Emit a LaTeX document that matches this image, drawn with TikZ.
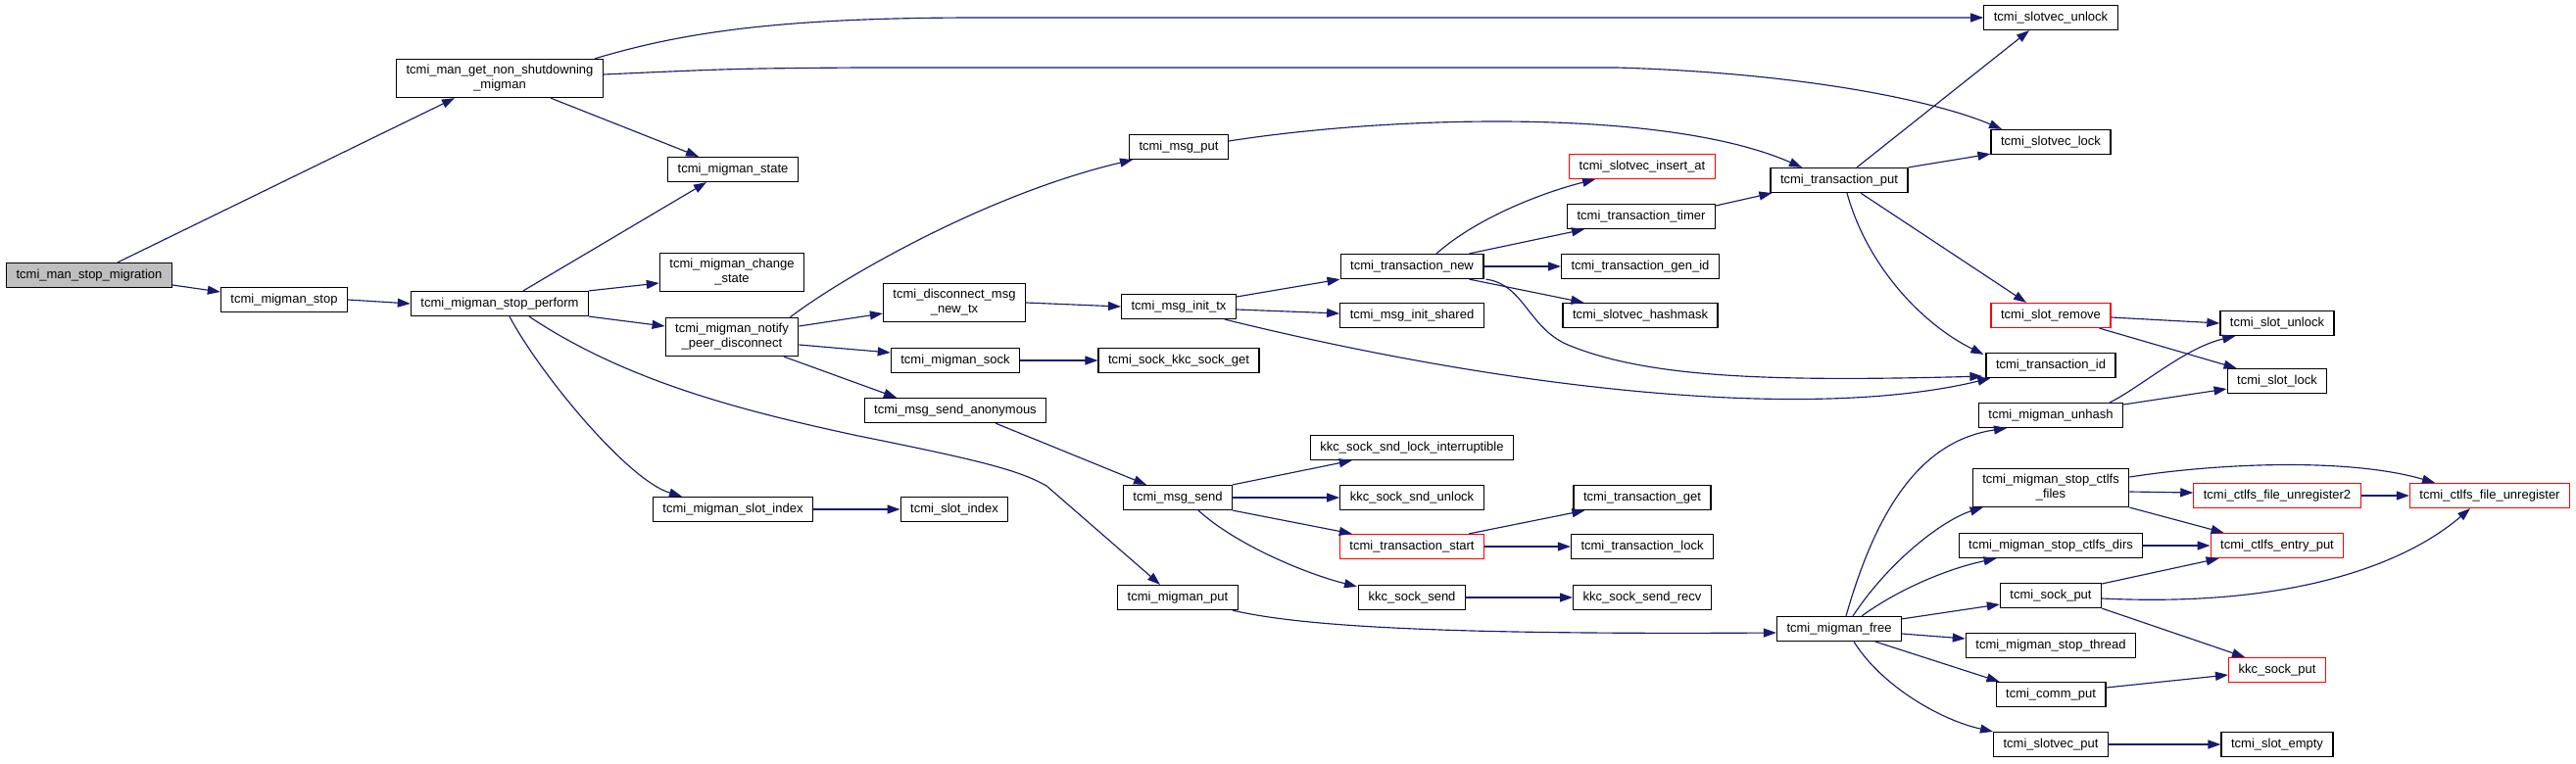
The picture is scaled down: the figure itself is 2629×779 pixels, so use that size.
\documentclass[tikz,border=0pt]{standalone}
\usepackage{fontspec}
\setmainfont{Liberation Sans}
\usepackage{xcolor}
\usetikzlibrary{arrows.meta, calc}
\definecolor{edgeblue}{RGB}{25,25,112}

\begin{document}
\begin{tikzpicture}[x=0.2mm, y=-0.2mm, >={Triangle[length=2.6mm, width=1.8mm]},
  fn/.style={draw, line width=0.7pt, fill=white, align=center, inner xsep=2mm, inner ysep=1.2mm, minimum height=5mm, font=\fontsize{7.4}{8.5}\selectfont},
  fnred/.style={fn, draw=red},
  fnroot/.style={fn, fill=black!25},
  call/.style={->, draw=edgeblue, line width=0.65pt}]
  \useasboundingbox (0,0) rectangle (2629,779);
  \node[fnroot] (stopmig) at (91,281) {tcmi\_man\_stop\_migration};
  \node[fn] (mstop) at (290,306) {tcmi\_migman\_stop};
  \node[fn] (getmig) at (510,80) {tcmi\_man\_get\_non\_shutdowning\\\_migman};
  \node[fn] (mstate) at (748,173) {tcmi\_migman\_state};
  \node[fn] (perform) at (510,310) {tcmi\_migman\_stop\_perform};
  \node[fn] (chstate) at (747,278) {tcmi\_migman\_change\\\_state};
  \node[fn] (notify) at (747,344) {tcmi\_migman\_notify\\\_peer\_disconnect};
  \node[fn] (slotidx) at (748,520) {tcmi\_migman\_slot\_index};
  \node[fn] (msgput) at (1203,150) {tcmi\_msg\_put};
  \node[fn] (discnew) at (974,309) {tcmi\_disconnect\_msg\\\_new\_tx};
  \node[fn] (msock) at (975,368) {tcmi\_migman\_sock};
  \node[fn] (sendanon) at (975,419) {tcmi\_msg\_send\_anonymous};
  \node[fn] (slotindex) at (974,520) {tcmi\_slot\_index};
  \node[fn] (initx) at (1203,313) {tcmi\_msg\_init\_tx};
  \node[fn] (kkcget) at (1203,368) {tcmi\_sock\_kkc\_sock\_get};
  \node[fn] (msend) at (1202,508) {tcmi\_msg\_send};
  \node[fn] (mput) at (1202,610) {tcmi\_migman\_put};
  \node[fn] (tnew) at (1441,272) {tcmi\_transaction\_new};
  \node[fn] (initsh) at (1441,322) {tcmi\_msg\_init\_shared};
  \node[fn] (sndlockint) at (1441,457) {kkc\_sock\_snd\_lock\_interruptible};
  \node[fn] (sndunlock) at (1441,508) {kkc\_sock\_snd\_unlock};
  \node[fnred] (tstart) at (1441,558) {tcmi\_transaction\_start};
  \node[fn] (ksend) at (1441,610) {kkc\_sock\_send};
  \node[fnred] (insat) at (1676,170) {tcmi\_slotvec\_insert\_at};
  \node[fn] (ttimer) at (1675,221) {tcmi\_transaction\_timer};
  \node[fn] (genid) at (1674,272) {tcmi\_transaction\_gen\_id};
  \node[fn] (hashmask) at (1674,322) {tcmi\_slotvec\_hashmask};
  \node[fn] (tget) at (1676,508) {tcmi\_transaction\_get};
  \node[fn] (tlock) at (1676,558) {tcmi\_transaction\_lock};
  \node[fn] (sendrecv) at (1676,610) {kkc\_sock\_send\_recv};
  \node[fn] (tput) at (1877,184) {tcmi\_transaction\_put};
  \node[fn] (mfree) at (1877,642) {tcmi\_migman\_free};
  \node[fn] (vunlock) at (2093,18) {tcmi\_slotvec\_unlock};
  \node[fn] (vlock) at (2093,145) {tcmi\_slotvec\_lock};
  \node[fnred] (sremove) at (2093,322) {tcmi\_slot\_remove};
  \node[fn] (tid) at (2093,373) {tcmi\_transaction\_id};
  \node[fn] (unhash) at (2093,424) {tcmi\_migman\_unhash};
  \node[fn] (ctlfiles) at (2093,498) {tcmi\_migman\_stop\_ctlfs\\\_files};
  \node[fn] (ctldirs) at (2093,557) {tcmi\_migman\_stop\_ctlfs\_dirs};
  \node[fn] (sockput) at (2093,608) {tcmi\_sock\_put};
  \node[fn] (sthread) at (2093,659) {tcmi\_migman\_stop\_thread};
  \node[fn] (commput) at (2093,709) {tcmi\_comm\_put};
  \node[fn] (vput) at (2093,760) {tcmi\_slotvec\_put};
  \node[fn] (sunlock) at (2324,330) {tcmi\_slot\_unlock};
  \node[fn] (slock) at (2324,389) {tcmi\_slot\_lock};
  \node[fnred] (unreg2) at (2324,506) {tcmi\_ctlfs\_file\_unregister2};
  \node[fnred] (entryput) at (2324,557) {tcmi\_ctlfs\_entry\_put};
  \node[fnred] (kput) at (2324,684) {kkc\_sock\_put};
  \node[fn] (sempty) at (2324,760) {tcmi\_slot\_empty};
  \node[fnred] (unreg) at (2541,506) {tcmi\_ctlfs\_file\_unregister};
  \draw[call] ($(stopmig.north)+(29,0)$) -- ($(getmig.south)+(-46,0)$);
  \draw[call] ($(stopmig.east)+(0,10)$) -- ($(mstop.west)+(0,-8)$);
  \draw[call] ($(getmig.north east)+(-9,0)$) .. controls (700,32) and (800,18) .. (1000,18) -- (vunlock.west);
  \draw[call] ($(getmig.east)+(0,-4)$) .. controls (750,70) .. (877,69) -- (1650,69) .. controls (1850,75) and (1980,105) .. ($(vlock.north)+(-50,0)$);
  \draw[call] ($(getmig.south)+(52,0)$) -- ($(mstate.north)+(-35,0)$);
  \draw[call] (mstop.east) -- (perform.west);
  \draw[call] ($(perform.north)+(24,0)$) -- ($(mstate.south)+(-27,0)$);
  \draw[call] (perform.north east) -- ($(chstate.west)+(0,11)$);
  \draw[call] (perform.south east) -- ($(notify.west)+(0,-11)$);
  \draw[call] ($(perform.south)+(10,0)$) .. controls (550,380) and (640,490) .. ($(slotidx.north)+(-52,0)$);
  \draw[call] ($(perform.south)+(30,0)$) .. controls (640,390) and (760,420) .. (876,445) .. controls (1000,470) and (1040,480) .. (1068,496) -- ($(mput.north)+(-18,0)$);
  \draw[call] ($(notify.north east)+(-9,0)$) .. controls (850,290) and (1000,200) .. ($(msgput.south)+(-47,0)$);
  \draw[call] ($(notify.east)+(0,-11)$) -- ($(discnew.west)+(0,11)$);
  \draw[call] ($(notify.east)+(0,8)$) -- ($(msock.west)+(0,-8)$);
  \draw[call] ($(notify.south)+(53,0)$) -- ($(sendanon.north)+(-60,0)$);
  \draw[call] ($(msgput.east)+(0,-6)$) .. controls (1420,118) and (1700,110) .. ($(tput.north)+(-38,0)$);
  \draw[call] (discnew.east) -- (initx.west);
  \draw[call] ($(initx.east)+(0,-10)$) -- (tnew.south west);
  \draw[call] ($(initx.east)+(0,3)$) -- ($(initsh.west)+(0,-2)$);
  \draw[call] ($(initx.south)+(47,0)$) .. controls (1550,400) and (1850,430) .. ($(tid.south west)+(5,0)$);
  \draw[call] (msock.east) -- (kkcget.west);
  \draw[call] ($(sendanon.south)+(41,0)$) -- ($(msend.north)+(-32,0)$);
  \draw[call] ($(tnew.north)+(25,0)$) .. controls (1510,220) and (1580,195) .. ($(insat.south)+(-48,0)$);
  \draw[call] ($(tnew.north east)+(-15,0)$) -- ($(ttimer.south west)+(18,0)$);
  \draw[call] (tnew.east) -- (genid.west);
  \draw[call] ($(tnew.south east)+(-15,0)$) -- ($(hashmask.north west)+(22,0)$);
  \draw[call] ($(tnew.south east)+(2,0)$) .. controls (1555,290) and (1560,335) .. (1600,352) .. controls (1680,385) and (1800,390) .. ($(tid.south west)+(-3,-2)$);
  \draw[call] ($(ttimer.east)+(0,-11)$) -- ($(tput.south west)+(2,0)$);
  \draw[call] ($(tput.north)+(18,0)$) -- ($(vunlock.south)+(-22,0)$);
  \draw[call] (tput.north east) -- ($(vlock.south west)+(0,-1)$);
  \draw[call] ($(tput.south)+(22,0)$) -- ($(sremove.north)+(-25,0)$);
  \draw[call] ($(tput.south)+(8,0)$) .. controls (1905,270) and (1960,330) .. ($(tid.north west)+(-2,2)$);
  \draw[call] ($(sremove.east)+(0,2)$) -- (sunlock.west);
  \draw[call] ($(sremove.south east)+(-12,0)$) -- ($(slock.north west)+(10,0)$);
  \draw[call] ($(unhash.north east)+(-14,0)$) .. controls (2185,395) and (2230,355) .. ($(sunlock.south west)+(16,0)$);
  \draw[call] ($(unhash.east)+(0,-11)$) -- ($(slock.west)+(0,8)$);
  \draw[call] (slotidx.east) -- (slotindex.west);
  \draw[call] (msend.north east) -- ($(sndlockint.south west)+(43,0)$);
  \draw[call] (msend.east) -- (sndunlock.west);
  \draw[call] (msend.south east) -- ($(tstart.north west)+(13,0)$);
  \draw[call] ($(msend.south)+(21,0)$) .. controls (1260,555) and (1330,585) .. ($(ksend.north west)+(-1,2)$);
  \draw[call] ($(tstart.north east)+(-16,0)$) -- ($(tget.south west)+(12,0)$);
  \draw[call] (tstart.east) -- (tlock.west);
  \draw[call] (ksend.east) -- (sendrecv.west);
  \draw[call] ($(mput.south east)+(-6,0)$) .. controls (1330,640) and (1480,648) .. ($(mfree.west)+(0,4)$);
  \draw[call] ($(mfree.north)+(7,0)$) .. controls (1915,520) and (1960,450) .. ($(unhash.south)+(-45,0)$);
  \draw[call] ($(mfree.north)+(14,0)$) .. controls (1930,570) and (1985,530) .. ($(ctlfiles.south west)+(11,0)$);
  \draw[call] ($(mfree.north)+(23,0)$) .. controls (1940,600) and (1990,580) .. ($(ctldirs.south west)+(39,0)$);
  \draw[call] ($(mfree.north east)+(0,3)$) -- ($(sockput.west)+(0,9)$);
  \draw[call] ($(mfree.east)+(0,5)$) -- ($(sthread.west)+(0,-7)$);
  \draw[call] ($(mfree.south)+(37,0)$) -- ($(commput.north west)+(4,0)$);
  \draw[call] ($(mfree.south)+(15,0)$) .. controls (1920,700) and (1980,735) .. (vput.north west);
  \draw[call] ($(ctlfiles.east)+(0,-11)$) .. controls (2270,472) and (2400,468) .. ($(unreg.north)+(-56,0)$);
  \draw[call] ($(ctlfiles.east)+(0,4)$) -- ($(unreg2.west)+(0,-3)$);
  \draw[call] (ctlfiles.south east) -- ($(entryput.north west)+(14,0)$);
  \draw[call] (unreg2.east) -- (unreg.west);
  \draw[call] (ctldirs.east) -- (entryput.west);
  \draw[call] ($(sockput.east)+(0,-12)$) -- ($(entryput.south west)+(9,0)$);
  \draw[call] ($(sockput.east)+(0,3)$) .. controls (2330,620) and (2450,580) .. ($(unreg.south)+(-20,0)$);
  \draw[call] (sockput.south east) -- ($(kput.north west)+(17,0)$);
  \draw[call] ($(commput.east)+(0,-7)$) -- ($(kput.west)+(0,5)$);
  \draw[call] (vput.east) -- (sempty.west);
\end{tikzpicture}
\end{document}
